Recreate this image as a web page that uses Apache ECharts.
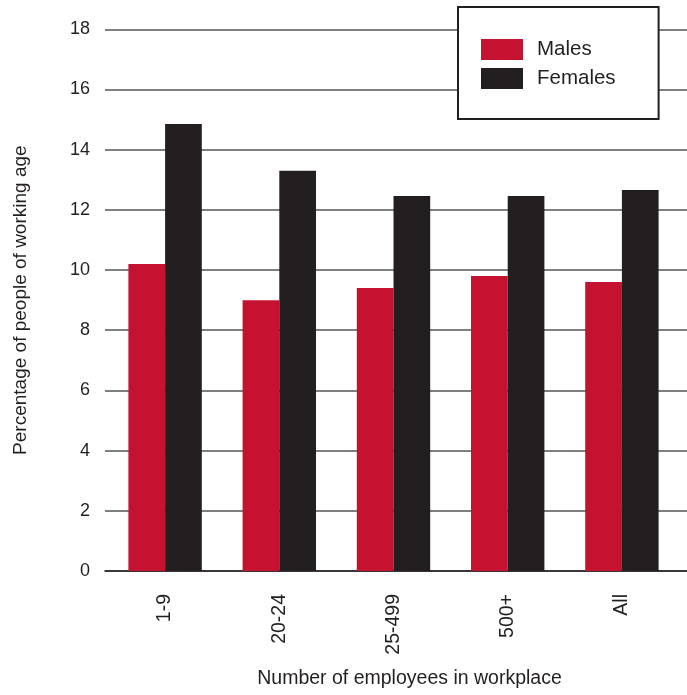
<!DOCTYPE html>
<html>
<head>
<meta charset="utf-8">
<script src="https://cdn.jsdelivr.net/npm/echarts@6/dist/echarts.min.js"></script>
<style>
html,body{margin:0;padding:0;background:#fff;}
#c{width:687px;height:695px;}
</style>
</head>
<body>
<div id="c"></div>
<script>
var categories = ['1-9', '20-24', '25-499', '500+', 'All'];
var males = [10.2, 9.0, 9.4, 9.8, 9.6];
var females = [14.85, 13.3, 12.46, 12.46, 12.66];
var yTicks = {min: 0, max: 18, interval: 2};

var FONT = '"Liberation Sans", Arial, Helvetica, sans-serif';
var TXT = '#231f20';

var chart = echarts.init(document.getElementById('c'), null, {renderer: 'canvas'});
chart.setOption({
  animation: false,
  backgroundColor: '#fff',
  textStyle: {fontFamily: FONT, color: TXT},
  legend: {
    orient: 'vertical',
    left: 458, top: 7,
    padding: [32, 43, 30, 23],
    itemWidth: 42, itemHeight: 21, itemGap: 8,
    icon: 'rect',
    borderColor: TXT, borderWidth: 2,
    backgroundColor: '#fff',
    textStyle: {fontFamily: FONT, fontSize: 20.5, color: TXT, padding: [0, 0, 0, 9]},
    data: ['Males', 'Females'],
    z: 10
  },
  grid: [
    {left: 105, right: 0, top: 29.3, bottom: 124},
    {left: 108, width: 571, top: 29.3, bottom: 124}
  ],
  xAxis: [
    {gridIndex: 0, type: 'value', min: 0, max: 1, show: true,
     axisLine: {show: true, lineStyle: {color: TXT, width: 1.5}},
     axisTick: {show: false}, axisLabel: {show: false}, splitLine: {show: false}},
    {
      gridIndex: 1, type: 'category', data: categories,
      axisLine: {show: false},
      axisTick: {show: false},
      axisLabel: {rotate: 90, margin: 23, fontSize: 19.5, color: TXT, fontFamily: FONT},
      name: 'Number of employees in workplace',
      nameLocation: 'middle', nameGap: 98,
      nameTextStyle: {fontSize: 19.5, color: TXT, fontFamily: FONT, padding: [0, 0, 0, 32]}
    }
  ],
  yAxis: [
    {
      gridIndex: 0, type: 'value', min: yTicks.min, max: yTicks.max, interval: yTicks.interval,
      axisLine: {show: false}, axisTick: {show: false},
      splitLine: {show: true, lineStyle: {color: '#555', width: 1.5}},
      axisLabel: {margin: 15, fontSize: 18, color: TXT, fontFamily: FONT},
      name: 'Percentage of people of working age',
      nameLocation: 'middle', nameGap: 75,
      nameTextStyle: {fontSize: 19, color: TXT, fontFamily: FONT}
    },
    {
      gridIndex: 1, type: 'value', min: yTicks.min, max: yTicks.max, interval: yTicks.interval,
      show: false, splitLine: {show: false}
    }
  ],
  series: [
    {name: 'Males', type: 'bar', xAxisIndex: 1, yAxisIndex: 1, data: males,
     barWidth: 36.7, barGap: '0%', itemStyle: {color: '#c41230'}},
    {name: 'Females', type: 'bar', xAxisIndex: 1, yAxisIndex: 1, data: females,
     barWidth: 36.7, barGap: '0%', itemStyle: {color: '#231f20'}}
  ]
});
</script>
</body>
</html>
